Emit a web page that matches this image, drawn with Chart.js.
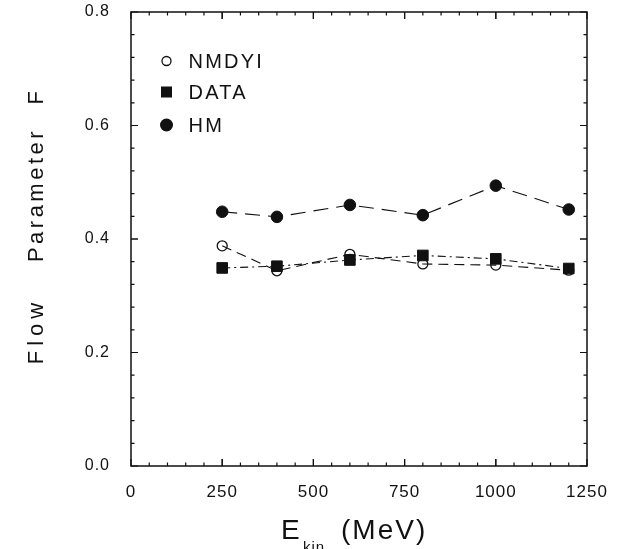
<!DOCTYPE html>
<html><head><meta charset="utf-8">
<script src="https://cdn.jsdelivr.net/npm/chart.js@4.4.0/dist/chart.umd.min.js"></script>
<style>html,body{margin:0;padding:0;background:#fff;}#wrap{width:617px;height:549px;}</style>
</head><body><div id="wrap"><canvas id="c" width="617" height="549"></canvas></div>
<script>
// ---- data ----
const energies    = [250, 400, 600, 800, 1000, 1200];
const nmdyiValues = [0.388, 0.344, 0.373, 0.356, 0.354, 0.345];
const dataValues  = [0.349, 0.352, 0.363, 0.371, 0.365, 0.348];
const hmValues    = [0.448, 0.439, 0.460, 0.442, 0.494, 0.452];
const seriesLabels = ['NMDYI', 'DATA', 'HM'];
const xTickValues = [0, 250, 500, 750, 1000, 1250];
const yTickValues = [0.0, 0.2, 0.4, 0.6, 0.8];
const xMinorPerMajor = 5;
const yMinorPerMajor = 5;

const FONT = '"Liberation Sans", Arial, sans-serif';
const toPts = vals => vals.map((v, i) => ({x: energies[i], y: v}));
const setLS = (ctx, v) => { try { ctx.letterSpacing = v; } catch (e) {} };

const spacing = {
  id: 'spacing',
  beforeDraw(chart) { setLS(chart.ctx, '1px'); }
};

const frameAndTitles = {
  id: 'frameAndTitles',
  afterDraw(chart) {
    const ctx = chart.ctx, a = chart.chartArea, xs = chart.scales.x, ys = chart.scales.y;
    ctx.save();
    ctx.strokeStyle = '#111';
    ctx.lineWidth = 1.5;
    ctx.strokeRect(a.left, a.top, a.right - a.left, a.bottom - a.top);
    ctx.lineWidth = 1.2;
    for (let i = 0; i < xTickValues.length - 1; i++) {
      const v0 = xTickValues[i], v1 = xTickValues[i + 1];
      for (let k = 0; k <= xMinorPerMajor; k++) {
        const v = v0 + (v1 - v0) * k / xMinorPerMajor;
        const px = xs.getPixelForValue(v);
        const len = (k === 0 || k === xMinorPerMajor) ? 7 : 3.5;
        ctx.beginPath();
        ctx.moveTo(px, a.bottom); ctx.lineTo(px, a.bottom - len);
        ctx.moveTo(px, a.top); ctx.lineTo(px, a.top + len);
        ctx.stroke();
      }
    }
    for (let i = 0; i < yTickValues.length - 1; i++) {
      const v0 = yTickValues[i], v1 = yTickValues[i + 1];
      for (let k = 0; k <= yMinorPerMajor; k++) {
        const v = v0 + (v1 - v0) * k / yMinorPerMajor;
        const py = ys.getPixelForValue(v);
        const len = (k === 0 || k === yMinorPerMajor) ? 7 : 3.5;
        ctx.beginPath();
        ctx.moveTo(a.left, py); ctx.lineTo(a.left + len, py);
        ctx.moveTo(a.right, py); ctx.lineTo(a.right - len, py);
        ctx.stroke();
      }
    }
    // legend inside plot
    const ds = chart.data.datasets;
    const byLabel = l => ds.find(d => d.label === l);
    const rows = [{label: seriesLabels[0], y: 61}, {label: seriesLabels[1], y: 92}, {label: seriesLabels[2], y: 125}];
    ctx.fillStyle = '#111';
    ctx.font = '20px ' + FONT;
    ctx.textBaseline = 'middle';
    ctx.textAlign = 'left';
    setLS(ctx, '2.2px');
    rows.forEach(r => {
      const d = byLabel(r.label);
      const cx = 166.5;
      ctx.beginPath();
      if (d.pointStyle === 'rect') {
        ctx.fillStyle = '#111';
        ctx.fillRect(cx - 5.5, r.y - 5.5, 11, 11);
      } else if (d.pointBackgroundColor === 'rgba(0,0,0,0)') {
        ctx.lineWidth = 1.3;
        ctx.arc(cx, r.y, 4.5, 0, Math.PI * 2);
        ctx.stroke();
      } else {
        ctx.fillStyle = '#111';
        ctx.arc(cx, r.y, 6.5, 0, Math.PI * 2);
        ctx.fill();
      }
      ctx.fillStyle = '#111';
      ctx.fillText(r.label, 188.5, r.y + 1);
    });
    // y title
    ctx.save();
    ctx.translate(43, 0);
    ctx.rotate(-Math.PI / 2);
    ctx.font = '22px ' + FONT;
    ctx.textAlign = 'center';
    ctx.textBaseline = 'alphabetic';
    setLS(ctx, '3.5px');
    ctx.fillText('F', -96, 0);
    ctx.fillText('Parameter', -195, 0);
    setLS(ctx, '5px');
    ctx.fillText('Flow', -331, 0);
    ctx.restore();
    // x title with subscript
    ctx.textAlign = 'left';
    ctx.textBaseline = 'alphabetic';
    setLS(ctx, '1px');
    ctx.font = '28px ' + FONT;
    ctx.fillText('E', 281, 539);
    ctx.font = '15px ' + FONT;
    ctx.fillText('kin', 303, 552);
    setLS(ctx, '2px');
    ctx.font = '28px ' + FONT;
    ctx.fillText('(MeV)', 341, 539);
    ctx.restore();
  }
};

new Chart(document.getElementById('c'), {
  type: 'line',
  data: {
    datasets: [
      {
        label: seriesLabels[1], data: toPts(dataValues),
        borderColor: '#111', borderWidth: 1.1, borderDash: [8, 4, 2, 4],
        pointStyle: 'rect', pointRadius: 7.5, pointBackgroundColor: '#111', pointBorderColor: '#111', pointBorderWidth: 1,
        fill: false, tension: 0
      },
      {
        label: seriesLabels[0], data: toPts(nmdyiValues),
        borderColor: '#111', borderWidth: 1.1, borderDash: [10, 6],
        pointStyle: 'circle', pointRadius: 5, pointBackgroundColor: 'rgba(0,0,0,0)', pointBorderColor: '#111', pointBorderWidth: 1.3,
        fill: false, tension: 0
      },
      {
        label: seriesLabels[2], data: toPts(hmValues),
        borderColor: '#111', borderWidth: 1.1, borderDash: [15, 8],
        pointStyle: 'circle', pointRadius: 5.8, pointBackgroundColor: '#111', pointBorderColor: '#111', pointBorderWidth: 1,
        fill: false, tension: 0
      }
    ]
  },
  options: {
    responsive: false,
    animation: false,
    devicePixelRatio: 1,
    layout: {padding: {top: 12, right: 30, left: 0, bottom: 0}},
    plugins: {legend: {display: false}, tooltip: {enabled: false}, title: {display: false}},
    scales: {
      x: {
        type: 'linear', min: xTickValues[0], max: xTickValues[xTickValues.length - 1],
        afterBuildTicks: s => { s.ticks = xTickValues.map(v => ({value: v})); },
        ticks: {color: '#111', font: {family: FONT, size: 17}, padding: 16, maxRotation: 0, autoSkip: false,
                callback: v => String(v)},
        grid: {display: false, drawTicks: false},
        border: {display: false},
        afterFit: s => { s.height = 83; s.paddingLeft = 0; s.paddingRight = 0; }
      },
      y: {
        type: 'linear', min: yTickValues[0], max: yTickValues[yTickValues.length - 1],
        afterBuildTicks: s => { s.ticks = yTickValues.map(v => ({value: v})); },
        ticks: {color: '#111', font: {family: FONT, size: 16}, padding: 21, autoSkip: false,
                callback: v => Number(v).toFixed(1)},
        grid: {display: false, drawTicks: false},
        border: {display: false},
        afterFit: s => { s.width = 131; s.paddingTop = 0; s.paddingBottom = 0; }
      }
    }
  },
  plugins: [spacing, frameAndTitles]
});
</script>
</body></html>
